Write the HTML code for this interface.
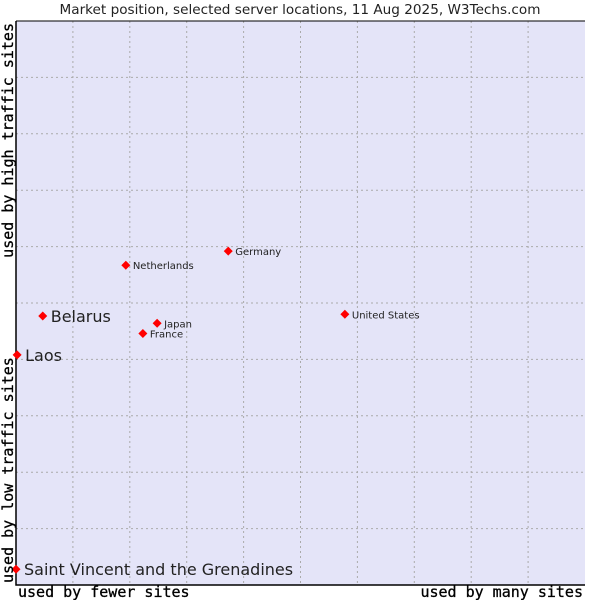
<!DOCTYPE html>
<html><head><meta charset="utf-8"><style>
body{margin:0;background:#fff;width:600px;height:600px;overflow:hidden}
</style></head><body>
<svg width="600" height="600" xmlns="http://www.w3.org/2000/svg">
<text x="300" y="14" text-anchor="middle" font-family="DejaVu Sans, sans-serif" font-size="13.6" fill="#222">Market position, selected server locations, 11 Aug 2025, W3Techs.com</text>
<rect x="16" y="21" width="569" height="564" fill="#e4e4f8"/>
<g id="grid"></g>
<path d="M16 21V585H585" fill="none" stroke="#000" stroke-width="1.5"/>
<line x1="16" y1="21" x2="585" y2="21" stroke="#000" stroke-width="1"/>
<g id="pts"></g>
<text x="18" y="597" font-family="DejaVu Sans Mono, monospace" font-size="15" fill="#000" stroke="#000" stroke-width="0.3">used by fewer sites</text>
<text x="583" y="597" text-anchor="end" font-family="DejaVu Sans Mono, monospace" font-size="15" fill="#000" stroke="#000" stroke-width="0.3">used by many sites</text>
<text transform="translate(13,583) rotate(-90)" font-family="DejaVu Sans Mono, monospace" font-size="15" fill="#000" stroke="#000" stroke-width="0.3">used by low traffic sites</text>
<text transform="translate(13,23) rotate(-90)" text-anchor="end" font-family="DejaVu Sans Mono, monospace" font-size="15" fill="#000" stroke="#000" stroke-width="0.3">used by high traffic sites</text>
</svg>
<script>
const names=["Saint Vincent and the Grenadines","Laos","Belarus","Netherlands","Germany","Japan","France","United States"];
const xVals=[0,0.2,4.7,19.3,37.3,24.8,22.3,57.8];
const yVals=[2.8,40.8,47.7,56.7,59.2,46.4,44.6,48.0];
const bigLabel=[true,true,true,false,false,false,false,false];
const X0=16,X1=585,Y0=585,Y1=21;
function sx(v){return X0+v/100*(X1-X0);}
function sy(v){return Y0-v/100*(Y0-Y1);}
const NS="http://www.w3.org/2000/svg";
const g=document.getElementById('grid');
for(let i=1;i<10;i++){
 const v=document.createElementNS(NS,'line');
 
 
 v.setAttribute('x1',sx(i*10));v.setAttribute('x2',sx(i*10));v.setAttribute('y1',Y1);v.setAttribute('y2',Y0);
 v.setAttribute('stroke','#aaa');v.setAttribute('stroke-dasharray','2,3');g.appendChild(v);
 const h=document.createElementNS(NS,'line');
 
 
 h.setAttribute('y1',sy(i*10));h.setAttribute('y2',sy(i*10));h.setAttribute('x1',X0);h.setAttribute('x2',X1);
 h.setAttribute('stroke','#aaa');h.setAttribute('stroke-dasharray','2,3');g.appendChild(h);
}
const p=document.getElementById('pts');
names.forEach((n,i)=>{
 const x=sx(xVals[i]),y=sy(yVals[i]);
 const m=document.createElementNS(NS,'path');
 
 
 m.setAttribute('d',`M${x-4.5} ${y}L${x} ${y-4.5}L${x+4.5} ${y}L${x} ${y+4.5}Z`);
 m.setAttribute('fill','#f00');p.appendChild(m);
 const t=document.createElementNS(NS,'text');
 
 
 const big=bigLabel[i];
 t.setAttribute('x',x+(big?8:7));t.setAttribute('y',y+(big?6:4));
 t.setAttribute('font-family','DejaVu Sans, sans-serif');
 t.setAttribute('font-size',big?16:10);t.setAttribute('fill','#222');
 t.textContent=n;p.appendChild(t);
});
</script>
</body></html>
